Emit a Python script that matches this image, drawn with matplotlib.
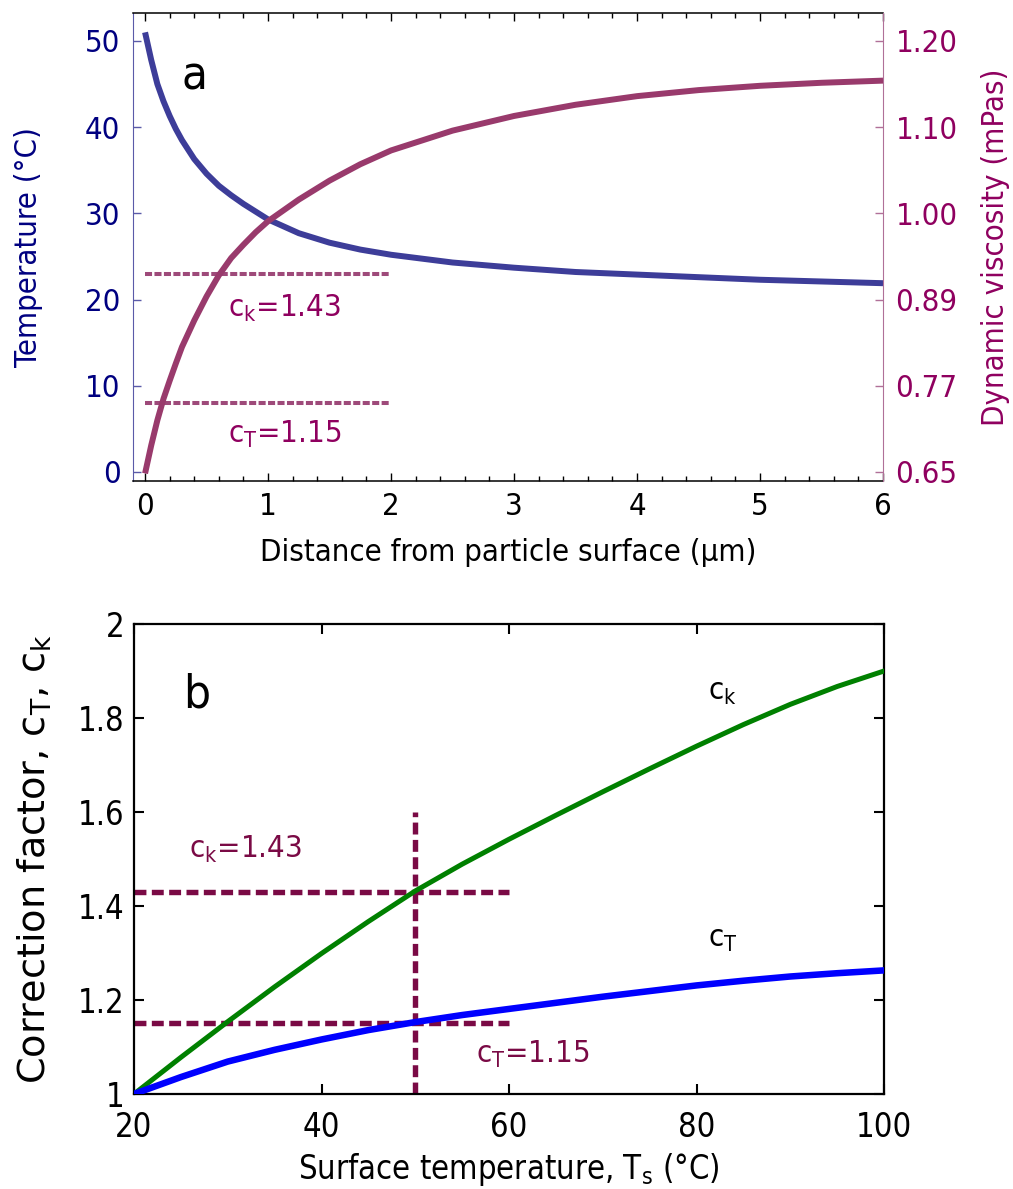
import numpy as np
import matplotlib
matplotlib.use("Agg")
import matplotlib.pyplot as plt
from matplotlib.ticker import FormatStrFormatter, MultipleLocator, FixedLocator, FuncFormatter

plt.rcParams['font.family'] = ['DejaVu Sans']
plt.rcParams['font.stretch'] = 'condensed'
plt.rcParams['mathtext.default'] = 'regular'

# ---------------- Panel a data ----------------
dist_um = [0, 0.05, 0.1, 0.15, 0.2, 0.25, 0.3, 0.4, 0.5, 0.6, 0.7, 0.8, 0.9, 1.0, 1.25, 1.5, 1.75,
           2.0, 2.5, 3.0, 3.5, 4.0, 4.5, 5.0, 5.5, 6.0]
temperature_C = [51.0, 47.8, 45.0, 43.0, 41.3, 39.8, 38.5, 36.3, 34.6, 33.2, 32.1, 31.1, 30.2, 29.3,
                 27.7, 26.6, 25.8, 25.2, 24.3, 23.7, 23.2, 22.9, 22.6, 22.3, 22.1, 21.9]
viscosity_mPas = [0.648, 0.687, 0.722, 0.752, 0.777, 0.801, 0.824, 0.861, 0.894, 0.921, 0.943, 0.960,
                  0.976, 0.990, 1.016, 1.038, 1.057, 1.073, 1.096, 1.113, 1.126, 1.136, 1.143, 1.148,
                  1.1515, 1.154]
temp_ticks = [0, 10, 20, 30, 40, 50]
visc_ticks = [0.65, 0.77, 0.89, 1.00, 1.10, 1.20]
dist_ticks = [0, 1, 2, 3, 4, 5, 6]
ref_levels_a = [23, 8]          # dashed level lines (temperature-axis units)
ref_extent_a = [0, 2]
ref_labels = ['c$_k$=1.43', 'c$_T$=1.15']

# ---------------- Panel b data ----------------
surf_T = [20, 25, 30, 35, 40, 45, 50, 55, 60, 65, 70, 75, 80, 85, 90, 95, 100]
c_k = [1.0, 1.078, 1.154, 1.228, 1.299, 1.367, 1.432, 1.489, 1.542, 1.593, 1.643, 1.692, 1.740,
       1.786, 1.829, 1.867, 1.900]
c_T = [1.0, 1.036, 1.069, 1.094, 1.116, 1.136, 1.153, 1.168, 1.181, 1.194, 1.207, 1.219, 1.231,
       1.241, 1.250, 1.257, 1.263]
ck_val, cT_val, Ts_ref = 1.43, 1.15, 50
ref_hline_extent = [20, 60]
ref_vline_extent = [1.0, 1.6]
b_xticks = [20, 40, 60, 80, 100]
b_yticks = [1.0, 1.2, 1.4, 1.6, 1.8, 2.0]

# ---------------- colours ----------------
BLUE_A = '#3d3d99'
PURP_A = '#993a6c'
DASH_A = '#9e4a7a'
NAVY = '#000080'
MAG = '#8f005f'
GREEN = '#008000'
BLUE_B = '#0000ff'
MAROON = '#7a0a45'

FS = 22.3
FSB = 23.5

fig = plt.figure(figsize=(10.13, 11.89), dpi=100)

# ================= Panel a =================
ax = fig.add_axes([0.1313, 0.5955, 0.7404, 0.3936])
ax.set_xlim(-0.098, 6.0)
ax.set_ylim(-1.04, 53.25)
ax.plot(dist_um, temperature_C, color=BLUE_A, lw=4.3, solid_capstyle='butt', zorder=3)
for lev in ref_levels_a:
    ax.plot(ref_extent_a, [lev, lev], color=DASH_A, lw=2.9, dashes=(1.75, 0.6), zorder=2)

ax.set_xticks(dist_ticks)
ax.xaxis.set_minor_locator(MultipleLocator(0.2))
ax.set_yticks(temp_ticks)
ax.tick_params(axis='x', which='both', direction='in', top=True, labelsize=FS, pad=8, colors='black')
ax.tick_params(axis='x', which='major', length=6, width=1)
ax.tick_params(axis='x', which='minor', length=3.5, width=1)
ax.tick_params(axis='y', direction='in', length=6, width=1, labelsize=FS, labelcolor=NAVY, color='#5a5aa8', pad=9)
ax.spines['left'].set_color('#5a5aa8')
ax.spines['right'].set_visible(False)
ax.spines['bottom'].set_linewidth(1.1)
ax.spines['top'].set_linewidth(1.1)
ax.set_xlabel('Distance from particle surface (µm)', fontsize=FS, labelpad=12)
ax.set_ylabel('Temperature (°C)', fontsize=FS, color=NAVY, labelpad=30)
ax.text(0.3, 45.8, 'a', fontsize=34, va='center', ha='left')
ax.text(0.675, 18.0, ref_labels[0], fontsize=FS, color=MAG, va='baseline')
ax.text(0.675, 3.4, ref_labels[1], fontsize=FS, color=MAG, va='baseline')

# viscosity axis (labels follow the original non-uniform axis)
VT_EXT = [0.41, 0.65, 0.77, 0.89, 1.00, 1.10, 1.20, 1.40]
POS_EXT = [-20, 0, 10, 20, 30, 40, 50, 70]
def fwd(v):
    return np.interp(v, VT_EXT, POS_EXT)
def inv(p):
    return np.interp(p, POS_EXT, VT_EXT)

ax2 = ax.twinx()
ax2.set_yscale('function', functions=(fwd, inv))
ax2.set_ylim(float(inv(-1.04)), float(inv(53.25)))
ax2.plot(dist_um, viscosity_mPas, color=PURP_A, lw=4.3, solid_capstyle='butt', zorder=3)
ax2.yaxis.set_major_locator(FixedLocator(visc_ticks))
ax2.yaxis.set_minor_locator(FixedLocator([]))
ax2.yaxis.set_major_formatter(FormatStrFormatter('%.2f'))
ax2.tick_params(axis='y', direction='in', length=6, width=1, labelsize=FS, labelcolor=MAG, color='#b07098', pad=9)
ax2.spines['right'].set_color('#b07098')
ax2.spines['left'].set_visible(False)
ax2.spines['top'].set_visible(False)
ax2.spines['bottom'].set_visible(False)
ax2.set_ylabel('Dynamic viscosity (mPas)', fontsize=FS, color=MAG, labelpad=17)

# ================= Panel b =================
bx = fig.add_axes([0.1323, 0.0799, 0.7404, 0.3953])
bx.set_xlim(20, 100)
bx.set_ylim(1, 2)
bx.plot(surf_T, c_k, color=GREEN, lw=3.6, zorder=3)
bx.plot(surf_T, c_T, color=BLUE_B, lw=4.7, zorder=3)
for lev in (ck_val, cT_val):
    bx.plot(ref_hline_extent, [lev, lev], color=MAROON, lw=3.9, dashes=(2.2, 1.0), zorder=2)
bx.plot([Ts_ref, Ts_ref], ref_vline_extent, color=MAROON, lw=3.9, dashes=(2.2, 1.0), zorder=2)

bx.set_xticks(b_xticks)
bx.set_yticks(b_yticks)
bx.yaxis.set_major_formatter(FuncFormatter(lambda v, p: ('%.1f' % v).rstrip('0').rstrip('.')))
bx.tick_params(direction='in', top=True, right=True, length=7, width=1.5, labelsize=FSB)
bx.tick_params(axis='x', pad=12)
bx.tick_params(axis='y', pad=7)
for s in bx.spines.values():
    s.set_linewidth(1.6)
bx.set_xlabel('Surface temperature, T$_s$ (°C)', fontsize=FSB, labelpad=5)
bx.set_ylabel('Correction factor, c$_T$, c$_k$', fontsize=27.5, fontstretch='normal', labelpad=17)
bx.text(26.7, 1.849, 'b', fontsize=34, va='center', ha='center')
bx.text(81.2, 1.838, 'c$_k$', fontsize=FS, va='baseline')
bx.text(81.2, 1.313, 'c$_T$', fontsize=FS, va='baseline')
bx.text(25.9, 1.502, 'c$_k$=1.43', fontsize=FS, color=MAROON, va='baseline')
bx.text(56.5, 1.066, 'c$_T$=1.15', fontsize=FS, color=MAROON, va='baseline')

fig.savefig('out.png', dpi=100)
